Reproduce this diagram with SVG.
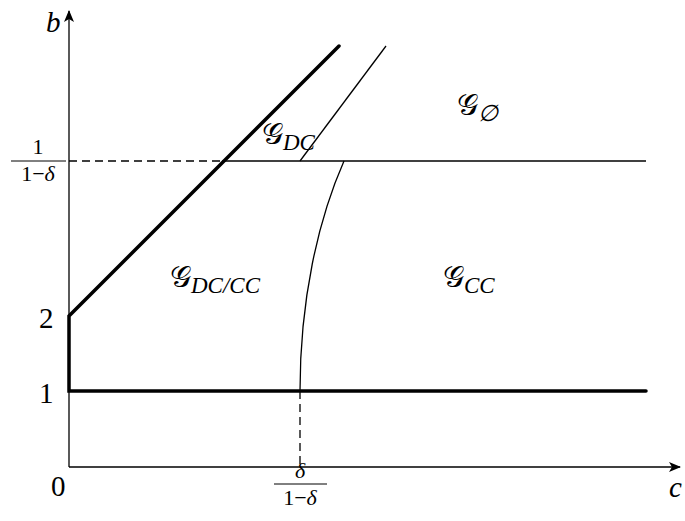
<svg xmlns="http://www.w3.org/2000/svg" width="685" height="521" viewBox="0 0 685 521">
<style>
.t{font-family:'Liberation Serif','Times New Roman',serif;font-size:29px;fill:#000}
.i{font-style:italic}
.s{font-size:22px}
.thin{stroke:#000;stroke-width:1.3;fill:none}
.thick{stroke:#000;stroke-width:3.5;fill:none;stroke-linecap:round}
.dash{stroke:#000;stroke-width:1.3;fill:none;stroke-dasharray:8,5}
.g{font-family:'DejaVu Sans','Noto Sans',serif;font-size:30px;font-weight:normal}
.sub{font-family:'Liberation Serif',serif;font-style:italic;font-size:23px}
</style>
<defs>
<marker id="ar" viewBox="0 0 12 10" refX="11" refY="5" markerWidth="12" markerHeight="10" markerUnits="userSpaceOnUse" orient="auto">
<path d="M0,0 L12,5 L0,10 L3,5 Z" fill="#000"/>
</marker>
</defs>
<g id="connectors">
<line class="thin" x1="69" y1="467" x2="69" y2="11" marker-end="url(#ar)"/>
<line class="thin" x1="69" y1="467" x2="680" y2="467" marker-end="url(#ar)"/>
<line class="dash" x1="69" y1="161" x2="222" y2="161"/>
<line class="thin" x1="222" y1="161" x2="646" y2="161"/>
<line class="dash" x1="300" y1="391" x2="300" y2="467"/>
<line class="thin" x1="300" y1="161" x2="386" y2="46"/>
<path class="thin" d="M300,391 C300,300 318,220 344,161"/>
<polyline class="thick" points="646,391 69,391 69,316 339,46"/>
</g>
<g id="labels">
<text class="t i" x="46" y="32">b</text>
<text class="t i" x="669" y="497">c</text>
<text class="t" x="51" y="496">0</text>
<text class="t" x="39" y="403">1</text>
<text class="t" x="39" y="328">2</text>
<g id="frac1">
<text class="t s" x="38" y="154" text-anchor="middle">1</text>
<line x1="11" y1="161" x2="66" y2="161" stroke="#000" stroke-width="1"/>
<text class="t s" x="38" y="181" text-anchor="middle">1−<tspan class="i">δ</tspan></text>
</g>
<g id="frac2">
<text class="t s i" x="300" y="478" text-anchor="middle">δ</text>
<line x1="274" y1="484" x2="327" y2="484" stroke="#000" stroke-width="1"/>
<text class="t s" x="300" y="505" text-anchor="middle">1−<tspan class="i">δ</tspan></text>
</g>
<g id="G_DC"><text class="t g" x="262" y="144">𝒢<tspan class="sub" dy="6">DC</tspan></text></g>
<g id="G_DCCC"><text class="t g" x="170" y="287">𝒢<tspan class="sub" dy="6">DC/CC</tspan></text></g>
<g id="G_CC"><text class="t g" x="443" y="287">𝒢<tspan class="sub" dy="6">CC</tspan></text></g>
<g id="G_empty"><text class="t g" x="457" y="115">𝒢<tspan class="sub" font-style="normal" dy="6">∅</tspan></text></g>
</g>
</svg>
